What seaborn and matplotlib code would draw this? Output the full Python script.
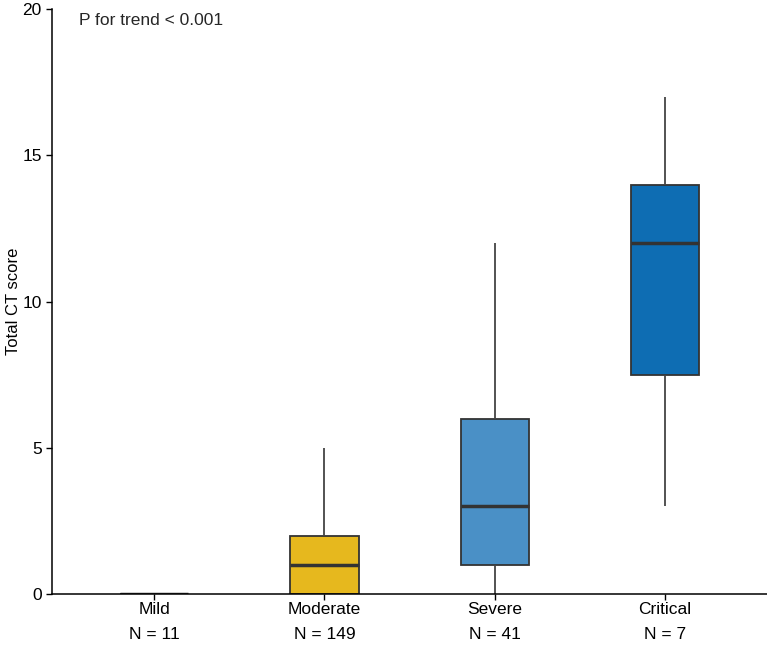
import pandas as pd
import seaborn as sns
import matplotlib
matplotlib.use("Agg")
import matplotlib.pyplot as plt

# representative scores per group (quartiles / whiskers)
groups = ["Mild", "Moderate", "Severe", "Critical"]
counts = [11, 149, 41, 7]
mild_scores = [0, 0, 0, 0, 0]
moderate_scores = [0, 0, 0, 1, 1, 2, 2, 2, 5]
severe_scores = [0, 1, 1, 2, 3, 4, 6, 8, 12]
critical_scores = [3, 6, 9, 12, 13, 15, 17]
box_colors = ["#F3D97A", "#E6B81E", "#4A90C6", "#0E6DB3"]

sns.set_theme(style="ticks")
plt.rcParams["font.family"] = ["Liberation Sans", "DejaVu Sans"]

rows = []
for g, vals in zip(groups, [mild_scores, moderate_scores, severe_scores, critical_scores]):
    for v in vals:
        rows.append((g, v))
df = pd.DataFrame(rows, columns=["group", "score"])

fig = plt.figure(figsize=(7.67, 6.45), dpi=100)
ax = fig.add_axes([0.068, 0.079, 0.932, 0.907])

sns.boxplot(data=df, x="group", y="score", hue="group", order=groups,
            palette=box_colors, saturation=1, width=0.4, linecolor="#333333",
            linewidth=1.3, showcaps=False, fliersize=0, legend=False, ax=ax,
            medianprops=dict(linewidth=2.5, color="#333333"),
            whiskerprops=dict(color="#444444"))

ax.set_xlim(-0.6, 3.6)
ax.set_ylim(0, 20)
ax.set_yticks([0, 5, 10, 15, 20])
ax.set_xticks(range(len(groups)))
ax.set_xticklabels([f"{g}\nN = {n}" for g, n in zip(groups, counts)])
plt.setp(ax.get_xticklabels(), linespacing=1.8)
ax.tick_params(labelsize=12.5, length=4, width=1, color="black", labelcolor="black")
ax.tick_params(axis="x", pad=2)
ax.set_xlabel("")
ax.set_ylabel("Total CT score", fontsize=12, color="black")
ax.yaxis.set_label_coords(-0.044, 0.5)
sns.despine(ax=ax)
for s in ["left", "bottom"]:
    ax.spines[s].set_color("black")
    ax.spines[s].set_linewidth(1.1)

ax.text(-0.44, 19.86, "P for trend < 0.001", fontsize=12.5, va="top", ha="left")

fig.savefig("out.png", dpi=100)
